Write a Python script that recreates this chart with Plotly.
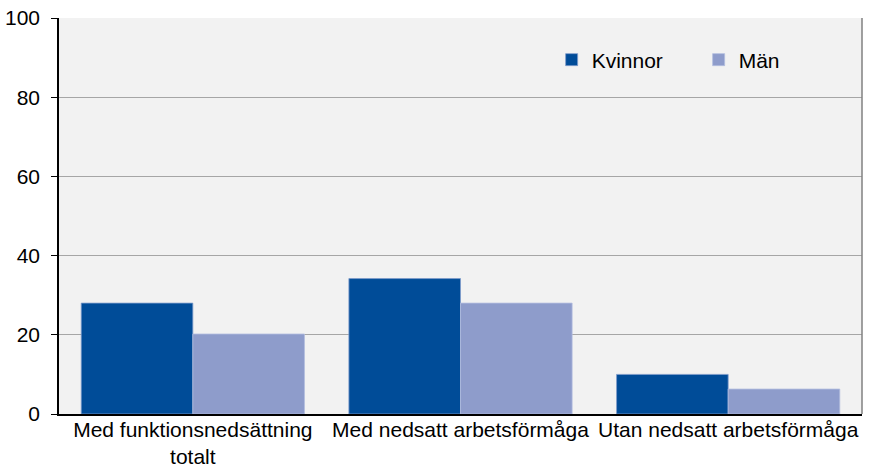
import plotly.graph_objects as go

categories = ["Med funktionsnedsättning<br>totalt", "Med nedsatt arbetsförmåga", "Utan nedsatt arbetsförmåga"]
kvinnor = [28.0, 34.2, 10.0]
man = [20.2, 28.0, 6.3]
y_ticks = [0, 20, 40, 60, 80, 100]

fig = go.Figure()
fig.add_trace(go.Bar(x=categories, y=kvinnor, name="Kvinnor",
                     marker=dict(color="#004C98", line=dict(color="#7F9CCB", width=0.8))))
fig.add_trace(go.Bar(x=categories, y=man, name="Män",
                     marker=dict(color="#8E9CCB", line=dict(color="#B3BEE0", width=0.8))))

fig.update_layout(
    width=871, height=467,
    margin=dict(l=59, r=9, t=18, b=53, autoexpand=False),
    paper_bgcolor="white",
    plot_bgcolor="#F2F2F2",
    barmode="group",
    bargap=0.166,
    bargroupgap=0,
    font=dict(family="Liberation Sans, Arial, sans-serif", size=21, color="#000000"),
    legend=dict(orientation="h", x=0.6135, y=0.894, xanchor="left", yanchor="middle",
                bgcolor="rgba(0,0,0,0)", font=dict(size=21),
                entrywidth=102, entrywidthmode="pixels", itemwidth=30,
                traceorder="normal"),
    xaxis=dict(showline=True, linecolor="#000000", linewidth=1.5, ticks="",
               showgrid=False, tickfont=dict(size=21), automargin=False,
               ticklabelstandoff=-4),
    yaxis=dict(range=[0, 100], tickvals=y_ticks, showgrid=True, gridcolor="#A6A6A6",
               gridwidth=1, showline=True, linecolor="#000000", linewidth=1.5,
               ticks="outside", ticklen=6, tickcolor="#000000", zeroline=False,
               tickfont=dict(size=21), automargin=False, ticklabelstandoff=7),
    shapes=[dict(type="line", xref="paper", yref="paper", x0=1, x1=1, y0=0, y1=1,
                 line=dict(color="#808080", width=1.5))],
)

fig.write_html("out.html", config={"displayModeBar": False})
with open("out.html", encoding="utf-8") as f:
    html = f.read()
html = html.replace("<body>", '<body style="margin:0;padding:0;overflow:hidden">', 1)
with open("out.html", "w", encoding="utf-8") as f:
    f.write(html)
